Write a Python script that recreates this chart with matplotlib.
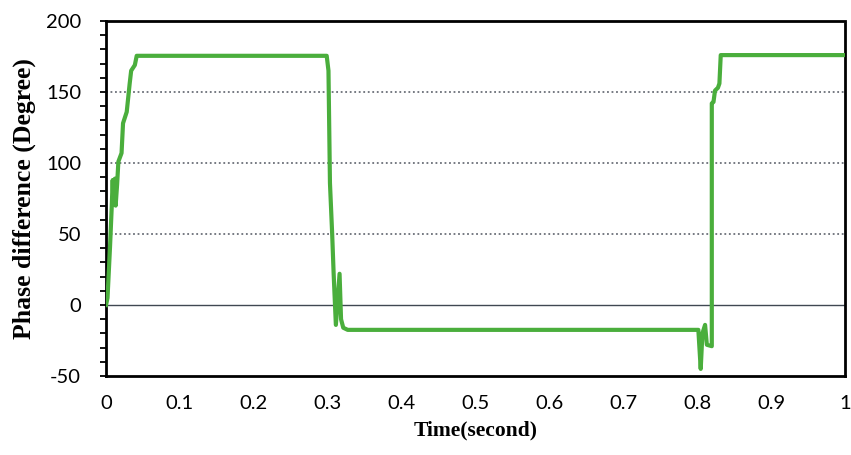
import matplotlib.pyplot as plt
from matplotlib.ticker import MultipleLocator

plt.rcParams['axes.unicode_minus'] = False

# phase difference vs time
t = [0.0, 0.002, 0.0054, 0.0077, 0.009, 0.010, 0.012, 0.013, 0.015, 0.0167,
     0.021, 0.023, 0.028, 0.032, 0.034, 0.039, 0.0415, 0.10, 0.2986,
     0.301, 0.303, 0.306, 0.308, 0.311, 0.316, 0.318, 0.321, 0.327,
     0.40, 0.60, 0.8015, 0.8047, 0.807, 0.8106, 0.813, 0.8197,
     0.8197, 0.822, 0.824, 0.828, 0.830, 0.8318, 0.90, 1.0]
phase = [0, 5, 41, 69, 88, 72, 89, 70, 85, 101,
         107, 128, 136, 156, 165, 169, 175.5, 175.5, 175.5,
         165, 86, 50, 22, -14, 22, -10, -16, -17.5,
         -17.5, -17.5, -17.5, -45, -20, -14, -28, -29,
         142, 143, 151, 153, 156, 176, 176, 176]

xticks = [0, 0.1, 0.2, 0.3, 0.4, 0.5, 0.6, 0.7, 0.8, 0.9, 1]
xticklabels = ['0', '0.1', '0.2', '0.3', '0.4', '0.5', '0.6', '0.7', '0.8', '0.9', '1']
yticks = [-50, 0, 50, 100, 150, 200]

fig = plt.figure(figsize=(8.51, 4.55), dpi=100)
ax = fig.add_axes([0.1246, 0.1736, 0.8684, 0.7802])

# gridlines
for y in [50, 100, 150]:
    ax.axhline(y, color='#6b6f78', lw=1.3, ls=(0, (1, 1.5)), zorder=1)
ax.axhline(0, color='#404852', lw=1.0, zorder=1)

ax.plot(t, phase, color='#4aae3c', lw=3.0, solid_joinstyle='round', zorder=3)

ax.set_xlim(0, 1)
ax.set_ylim(-50, 200)
ax.set_xticks(xticks)
ax.set_xticklabels(xticklabels)
ax.set_yticks(yticks)
ax.yaxis.set_minor_locator(MultipleLocator(10))

tickfont = 'Lato'
for lab in ax.get_xticklabels() + ax.get_yticklabels():
    lab.set_fontfamily(tickfont)
    lab.set_fontsize(14.5)

ax.tick_params(axis='x', length=0, pad=14)
ax.tick_params(axis='y', which='both', direction='out', length=4, width=1.3, color='black')
ax.tick_params(axis='y', which='major', pad=14)
ax.tick_params(axis='y', which='minor', length=4)

ax.spines['left'].set_linewidth(2)
ax.spines['left'].set_color('black')
for s in ['top', 'right', 'bottom']:
    ax.spines[s].set_linestyle((0, (1, 1)))
    ax.spines[s].set_linewidth(2)
    ax.spines[s].set_color('black')

ax.set_xlabel('Time(second)', fontfamily='Liberation Serif', fontweight='bold', fontsize=15.5, labelpad=6)
ax.set_ylabel('Phase difference (Degree)', fontfamily='Liberation Serif', fontweight='bold', fontsize=18.5, labelpad=7)

fig.savefig('out.png', dpi=100)
